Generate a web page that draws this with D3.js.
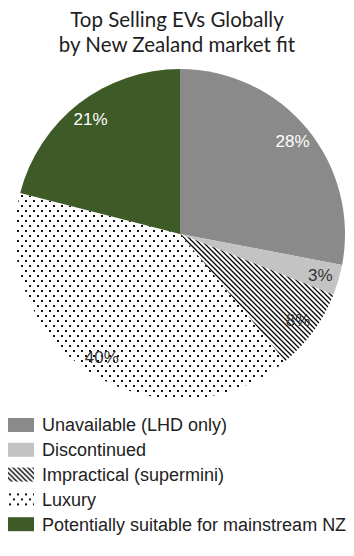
<!DOCTYPE html>
<html><head><meta charset="utf-8">
<script src="https://cdn.jsdelivr.net/npm/d3@7"></script>
<style>body{margin:0;background:#fff;}</style>
</head><body>
<svg id="c" width="354" height="556"></svg>
<script>
const categories = ["Unavailable (LHD only)", "Discontinued", "Impractical (supermini)", "Luxury", "Potentially suitable for mainstream NZ"];
const values = [28, 3, 8, 40, 21];
const labels = ["28%", "3%", "8%", "40%", "21%"];
const titleLines = ["Top Selling EVs Globally", "by New Zealand market fit"];

const svg = d3.select("#c");
const W = 354, cx = 180, cy = 234, R = 165;
const defs = svg.append("defs");
const hatch = defs.append("pattern").attr("id","hatch").attr("patternUnits","userSpaceOnUse").attr("width",5).attr("height",5);
hatch.append("rect").attr("width",5).attr("height",5).attr("fill","#fff");
hatch.append("path").attr("d","M-1,-1L6,6M-1,4L1,6M4,-1L6,1").attr("stroke","#000").attr("stroke-width",1.3);
const dots = defs.append("pattern").attr("id","dots").attr("patternUnits","userSpaceOnUse").attr("width",8).attr("height",10);
dots.append("rect").attr("width",8).attr("height",10).attr("fill","#fff");
dots.append("rect").attr("x",1).attr("y",1).attr("width",2).attr("height",2).attr("fill","#111");
dots.append("rect").attr("x",5).attr("y",6).attr("width",2).attr("height",2).attr("fill","#111");

const fills = ["#8a8a8a", "#c3c3c3", "url(#hatch)", "url(#dots)", "#3e5a27"];
const labelColors = ["#fff", "#333", "#333", "#333", "#fff"];

svg.append("g").selectAll("text").data(titleLines).join("text")
  .attr("x", W/2).attr("y", (d,i)=>27+i*25).attr("text-anchor","middle")
  .attr("font-family","Lato, 'Open Sans', sans-serif").attr("font-size",20.5).attr("fill","#1e1e1e").text(d=>d);

const pie = d3.pie().sort(null).value(d=>d)(values);
const arc = d3.arc().innerRadius(0).outerRadius(R);
const labArc = d3.arc().innerRadius(146).outerRadius(146);
const g = svg.append("g").attr("transform",`translate(${cx},${cy})`);
g.selectAll("path").data(pie).join("path").attr("d",arc).attr("fill",(d,i)=>fills[i]);
g.selectAll("text").data(pie).join("text")
  .attr("transform",d=>`translate(${labArc.centroid(d)})`)
  .attr("text-anchor","middle").attr("dy","0.36em")
  .attr("font-family","'Liberation Sans', Arial, sans-serif").attr("font-size",17)
  .attr("fill",(d,i)=>labelColors[i]).text((d,i)=>labels[i]);

const leg = svg.append("g").selectAll("g").data(categories).join("g")
  .attr("transform",(d,i)=>`translate(8,${418+i*24.8})`);
leg.append("rect").attr("width",26).attr("height",14).attr("fill",(d,i)=>fills[i]);
leg.append("text").attr("x",34).attr("y",7).attr("dy","0.36em")
  .attr("font-family","'Liberation Sans', Arial, sans-serif").attr("font-size",18).attr("fill","#222").text(d=>d);
</script>
</body></html>
